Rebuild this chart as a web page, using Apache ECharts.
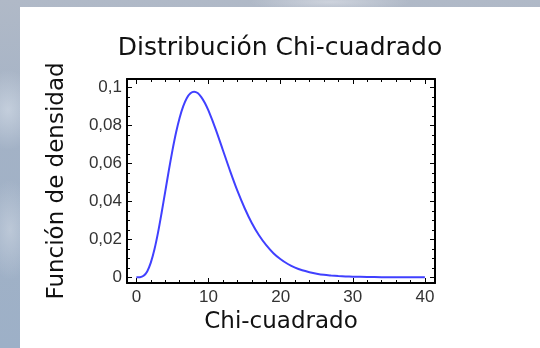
<!DOCTYPE html>
<html>
<head>
<meta charset="utf-8">
<script src="https://cdn.jsdelivr.net/npm/echarts@6/dist/echarts.min.js"></script>
<style>
  html, body { margin: 0; padding: 0; }
  body {
    width: 540px; height: 348px; overflow: hidden; position: relative;
    background:
      radial-gradient(ellipse 30px 40px at 8px 110px, rgba(220,228,238,0.55), rgba(220,228,238,0) 100%),
      radial-gradient(ellipse 25px 50px at 10px 230px, rgba(215,222,232,0.5), rgba(215,222,232,0) 100%),
      radial-gradient(ellipse 80px 10px at 330px 2px, rgba(225,228,235,0.6), rgba(225,228,235,0) 100%),
      linear-gradient(180deg, #b0b9c7 0%, #a3b2c6 40%, #9db0c7 100%);
  }
  #panel { position: absolute; left: 20px; top: 7px; width: 520px; height: 341px; background: #ffffff; }
  #chart { position: absolute; left: 0; top: 0; width: 540px; height: 348px; }
</style>
</head>
<body>
<div id="panel"></div>
<div id="chart"></div>
<script>
// Chi-cuadrado values (x) and density values
const xValues = [0, 0.5, 1, 1.5, 2, 2.5, 3, 3.5, 4, 4.5, 5, 5.5, 6, 6.5, 7, 7.5, 8, 8.5, 9, 9.5, 10,
  11, 12, 13, 14, 15, 16, 17, 18, 19, 20, 21, 22, 23, 24, 25, 26, 27, 28, 29, 30, 32, 34, 36, 38, 40];
const densityValues = [0, 0.00006, 0.0008, 0.0031, 0.0077, 0.0146, 0.0235, 0.034, 0.0451, 0.0563, 0.0668,
  0.0762, 0.084, 0.0901, 0.0944, 0.0969, 0.0977, 0.097, 0.0949, 0.0918, 0.0877,
  0.0779, 0.0669, 0.0559, 0.0456, 0.0365, 0.0286, 0.0221, 0.0169, 0.0127, 0.0095, 0.007, 0.0051,
  0.0037, 0.0027, 0.0019, 0.0013, 0.00095, 0.00067, 0.00046, 0.00032, 0.00015, 0.00007, 0.00003, 0.00001, 0];
const xTickLabels = ['0', '10', '20', '30', '40'];
const yTickLabels = ['0', '0,02', '0,04', '0,06', '0,08', '0,1'];

const titleText = 'Distribución Chi-cuadrado';
const xName = 'Chi-cuadrado';
const yName = 'Función de densidad';

const chart = echarts.init(document.getElementById('chart'), null, { renderer: 'canvas' });

const axisLine = { show: true, onZero: false, lineStyle: { color: '#000', width: 2 } };
const axisTick = { show: true, inside: true, length: 5, lineStyle: { color: '#000', width: 1 } };
const labelFont = { fontFamily: 'Liberation Sans', fontSize: 17, color: '#333' };

function fmtY(v) {
  const s = String(Math.round(v * 1000) / 1000).replace('.', ',');
  return yTickLabels.indexOf(s) >= 0 ? s : '';
}
function fmtX(v) {
  const s = String(Math.round(v));
  return xTickLabels.indexOf(s) >= 0 && Math.abs(v - Math.round(v)) < 1e-6 ? s : '';
}

chart.setOption({
  backgroundColor: 'transparent',
  animation: false,
  title: {
    text: titleText,
    left: 275, top: 31, textAlign: 'center',
    textStyle: { fontFamily: 'DejaVu Sans', fontSize: 25, fontWeight: 'normal', color: '#111' }
  },
  grid: { left: 127, right: 105, top: 79, bottom: 65, containLabel: false },
  xAxis: [
    {
      type: 'value', position: 'bottom', min: -1.3, max: 41.4,
      name: xName, nameLocation: 'middle', nameGap: 20,
      nameTextStyle: { fontFamily: 'DejaVu Sans', fontSize: 23, color: '#111', verticalAlign: 'top' },
      axisLine: axisLine, axisTick: axisTick,
      minorTick: { show: true, splitNumber: 5, length: 3, lineStyle: { color: '#000', width: 1 } },
      splitLine: { show: false },
      axisLabel: Object.assign({ margin: 6, showMinLabel: false, showMaxLabel: false, formatter: fmtX }, labelFont)
    },
    {
      type: 'value', position: 'top', min: -1.3, max: 41.4,
      axisLine: axisLine, axisTick: axisTick,
      minorTick: { show: true, splitNumber: 5, length: 3, lineStyle: { color: '#000', width: 1 } },
      splitLine: { show: false }, axisLabel: { show: false }
    }
  ],
  yAxis: [
    {
      type: 'value', position: 'left', min: -0.003, max: 0.1044,
      name: yName, nameLocation: 'middle', nameGap: 58, nameRotate: 90,
      nameTextStyle: { fontFamily: 'DejaVu Sans', fontSize: 23, color: '#111' },
      axisLine: axisLine, axisTick: axisTick,
      minorTick: { show: true, splitNumber: 4, length: 3, lineStyle: { color: '#000', width: 1 } },
      splitLine: { show: false },
      axisLabel: Object.assign({ margin: 5, showMinLabel: false, showMaxLabel: false, formatter: fmtY }, labelFont)
    },
    {
      type: 'value', position: 'right', min: -0.003, max: 0.1044,
      axisLine: axisLine, axisTick: axisTick,
      minorTick: { show: true, splitNumber: 4, length: 3, lineStyle: { color: '#000', width: 1 } },
      splitLine: { show: false }, axisLabel: { show: false }
    }
  ],
  series: [{
    type: 'line',
    xAxisIndex: 0, yAxisIndex: 0,
    data: xValues.map((x, i) => [x, densityValues[i]]),
    smooth: 0.3,
    showSymbol: false,
    lineStyle: { color: '#4040ff', width: 2 }
  }]
});
</script>
</body>
</html>
